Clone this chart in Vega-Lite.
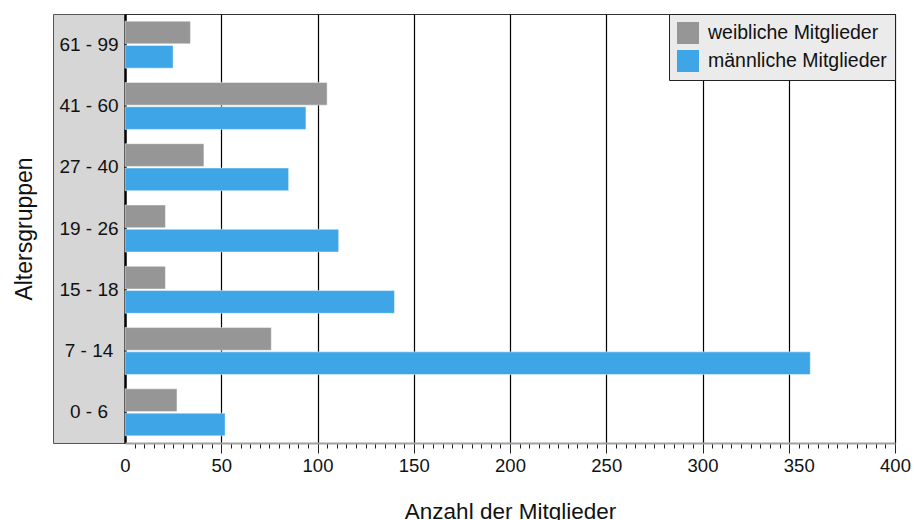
{
  "$schema": "https://vega.github.io/schema/vega-lite/v6.json",
  "padding": {"left": 12, "top": 13, "right": 5, "bottom": 0},
  "background": "white",
  "bounds": "flush",
  "data": {
    "values": [
      {"gruppe": "61 - 99", "geschlecht": "weibliche Mitglieder", "anzahl": 34},
      {"gruppe": "61 - 99", "geschlecht": "männliche Mitglieder", "anzahl": 25},
      {"gruppe": "41 - 60", "geschlecht": "weibliche Mitglieder", "anzahl": 105},
      {"gruppe": "41 - 60", "geschlecht": "männliche Mitglieder", "anzahl": 94},
      {"gruppe": "27 - 40", "geschlecht": "weibliche Mitglieder", "anzahl": 41},
      {"gruppe": "27 - 40", "geschlecht": "männliche Mitglieder", "anzahl": 85},
      {"gruppe": "19 - 26", "geschlecht": "weibliche Mitglieder", "anzahl": 21},
      {"gruppe": "19 - 26", "geschlecht": "männliche Mitglieder", "anzahl": 111},
      {"gruppe": "15 - 18", "geschlecht": "weibliche Mitglieder", "anzahl": 21},
      {"gruppe": "15 - 18", "geschlecht": "männliche Mitglieder", "anzahl": 140},
      {"gruppe": "7 - 14", "geschlecht": "weibliche Mitglieder", "anzahl": 76},
      {"gruppe": "7 - 14", "geschlecht": "männliche Mitglieder", "anzahl": 356},
      {"gruppe": "0 - 6", "geschlecht": "weibliche Mitglieder", "anzahl": 27},
      {"gruppe": "0 - 6", "geschlecht": "männliche Mitglieder", "anzahl": 52}
    ]
  },
  "spacing": 0,
  "resolve": {"legend": {"color": "independent"}},
  "hconcat": [
    {
      "width": 72,
      "height": 429,
      "view": {"fill": "#d6d6d6", "stroke": "#555"},
      "transform": [{"filter": "datum.geschlecht === 'weibliche Mitglieder'"}],
      "mark": {"type": "text", "fontSize": 19, "color": "#111", "align": "center", "baseline": "middle"},
      "encoding": {
        "y": {
          "field": "gruppe", "type": "nominal",
          "sort": ["61 - 99", "41 - 60", "27 - 40", "19 - 26", "15 - 18", "7 - 14", "0 - 6"],
          "scale": {"type": "band", "paddingInner": 0.233, "paddingOuter": 0.1165},
          "axis": {"title": "Altersgruppen", "labels": false, "ticks": false, "domain": false, "grid": false, "titleFontSize": 23, "titlePadding": 17, "titleFontWeight": "normal"}
        },
        "text": {"field": "gruppe", "type": "nominal"}
      }
    },
    {
      "width": 770,
      "height": 429,
      "view": {"stroke": "#333"},
      "mark": {"type": "bar", "stroke": "white", "strokeOpacity": 0.45, "strokeWidth": 1},
      "encoding": {
        "y": {
          "field": "gruppe", "type": "nominal",
          "sort": ["61 - 99", "41 - 60", "27 - 40", "19 - 26", "15 - 18", "7 - 14", "0 - 6"],
          "scale": {"paddingInner": 0.233, "paddingOuter": 0.1165},
          "axis": null
        },
        "yOffset": {
          "field": "geschlecht", "type": "nominal",
          "sort": ["weibliche Mitglieder", "männliche Mitglieder"],
          "scale": {"paddingInner": 0.065}
        },
        "x": {
          "field": "anzahl", "type": "quantitative",
          "scale": {"domain": [0, 400], "nice": false},
          "axis": {
            "title": "Anzahl der Mitglieder",
            "values": [0,5,10,15,20,25,30,35,40,45,50,55,60,65,70,75,80,85,90,95,100,105,110,115,120,125,130,135,140,145,150,155,160,165,170,175,180,185,190,195,200,205,210,215,220,225,230,235,240,245,250,255,260,265,270,275,280,285,290,295,300,305,310,315,320,325,330,335,340,345,350,355,360,365,370,375,380,385,390,395,400],
            "labelExpr": "datum.value % 50 === 0 ? datum.label : ''",
            "labelOverlap": false,
            "labelFlush": false,
            "labelBound": false,
            "labelFontSize": 18.5,
            "labelPadding": {"condition": {"test": "datum.value === 350", "value": 8}, "value": 3},
            "grid": true,
            "gridColor": "black",
            "gridWidth": {"condition": {"test": "datum.value === 0", "value": 2.5}, "value": 1.2},
            "gridOpacity": {"condition": {"test": "(datum.value % 50 === 0 && datum.value !== 350) || datum.value === 345", "value": 1}, "value": 0},
            "ticks": true,
            "tickColor": "#222",
            "tickWidth": 1,
            "tickSize": {"condition": {"test": "(datum.value % 50 === 0 && datum.value !== 350) || datum.value === 345", "value": 10}, "value": 5},
            "tickOpacity": {"condition": {"test": "datum.value === 0", "value": 0}, "value": 1},
            "domainColor": "#a0a0a0",
            "domainWidth": 2,
            "titleFontSize": 22.5,
            "titlePadding": 26,
            "titleFontWeight": "normal"
          }
        },
        "color": {
          "field": "geschlecht", "type": "nominal",
          "scale": {"domain": ["weibliche Mitglieder", "männliche Mitglieder"], "range": ["#969696", "#3ea6e6"]},
          "legend": {
            "title": null, "orient": "top-right", "offset": 0,
            "fillColor": "#ebebeb", "strokeColor": "#222", "padding": 8,
            "symbolType": "square", "symbolSize": 484, "symbolStrokeWidth": 0, "symbolOpacity": 1,
            "labelFontSize": 19.5, "labelOffset": 9, "rowPadding": 6, "labelColor": "#111", "labelLimit": 400
          }
        }
      }
    }
  ],
  "config": {
    "font": "Liberation Sans",
    "axis": {"labelColor": "#111", "titleColor": "#111"},
    "legend": {"labelFont": "Liberation Sans"}
  }
}
